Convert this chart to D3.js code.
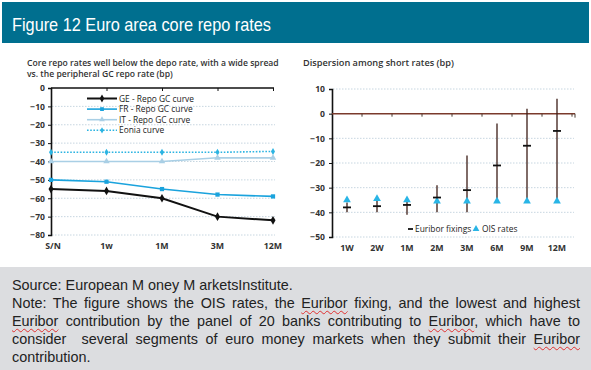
<!DOCTYPE html>
<html>
<head>
<meta charset="utf-8">
<script src="https://cdn.jsdelivr.net/npm/d3@7"></script>
<style>
  body { margin: 0; background: #fff; }
  #wrap { position: relative; width: 591px; height: 370px; overflow: hidden; }
  svg { position: absolute; left: 0; top: 0; }
  .note {
    position: absolute; left: 0; top: 267px; width: 568px; height: 94px;
    background: #dcdde0; padding: 9px 11px 0 12px;
    font-family: "Liberation Sans", Arial, sans-serif; font-size: 14.4px;
    line-height: 18px; color: #222;
  }
  .note div { white-space: nowrap; }
  .note .j { text-align: justify; text-align-last: justify; white-space: normal; }
  .sp { text-decoration: underline wavy #e03030; text-decoration-thickness: 1px; text-underline-offset: 2px; }
</style>
</head>
<body>
<div id="wrap"></div>
<script>
// left panel data (bp)
const tenorsL = ["S/N", "1w", "1M", "3M", "12M"]
const geRepo = [-55, -56, -60, -70, -72]
const frRepo = [-50, -51, -55, -58, -59]
const itRepo = [-40, -40, -40, -38, -38]
const eonia = [-35, -35, -35, -35, -34.5]
const ticksL = [0, -10, -20, -30, -40, -50, -60, -70, -80]

// right panel data (bp)
const tenorsR = ["1W", "2W", "1M", "2M", "3M", "6M", "9M", "12M"]
const euribor = [-38, -37.5, -37, -34, -31, -21, -13, -7]
const ois = [-35, -34.5, -35, -35.5, -35.5, -35.5, -35.5, -35.5]
const highest = [-36, -35, -35.5, -29, -17, -4, 2, 6]
const lowest = [-40, -40, -41, -40, -40, -35, -35, -35]
const ticksR = [10, 0, -10, -20, -30, -40, -50]

const W = 591, H = 370
const wrap = d3.select('#wrap')
const svg = wrap.append('svg').attr('width', W).attr('height', H)

// header band
svg.append('rect').attr('x', 2).attr('y', 2).attr('width', 587).attr('height', 41).attr('fill', '#006f8f')
svg.append('text')
    .attr('x', 12).attr('y', 31)
    .attr('fill', '#fff')
    .attr('textLength', 259).attr('lengthAdjust', 'spacingAndGlyphs')
    .style('font-family', '"Liberation Sans", Arial, sans-serif')
    .style('font-size', '18.5px')
    .text('Figure 12 Euro area core repo rates')

const chartFont = '"Open Sans", "DejaVu Sans", sans-serif'
const gridCol = '#b9cbd8'

// ---------- left panel ----------
const left = svg.append('g')
left.selectAll('.sub').data(['Core repo rates well below the depo rate, with a wide spread',
                             'vs. the peripheral GC repo rate (bp)'])
    .enter().append('text')
    .attr('x', 27).attr('y', (d, i) => 66 + i * 11.3)
    .style('font-family', chartFont).style('font-size', '8.6px').style('font-weight', 600)
    .attr('fill', '#333')
    .text(d => d)

const xL = d3.scalePoint().domain(tenorsL).range([51, 273])
const yL = d3.scaleLinear().domain([-80, 0]).range([235, 88])

// dotted grid
left.selectAll('.grid').data(ticksL.filter(t => t != 0)).enter().append('line')
    .attr('x1', 52).attr('x2', 275)
    .attr('y1', d => yL(d)).attr('y2', d => yL(d))
    .attr('stroke', gridCol).attr('stroke-width', 0.8).attr('stroke-dasharray', '1.5,1.5')

// top axis line at 0
left.append('g')
    .attr('transform', 'translate(0,' + yL(0) + ')')
    .call(d3.axisBottom(xL).tickSize(3).tickFormat(''))
    .call(g => g.select('.domain').attr('stroke', '#111').attr('stroke-width', 1.5).attr('d', 'M51,0H274'))
    .call(g => g.selectAll('.tick line').attr('stroke', '#111'))

// y axis
left.append('g')
    .attr('transform', 'translate(51,0)')
    .call(d3.axisLeft(yL).tickValues(ticksL).tickSize(3).tickPadding(3))
    .call(g => g.select('.domain').attr('stroke', '#111').attr('stroke-width', 1.6))
    .call(g => g.selectAll('.tick line').attr('stroke', '#111'))
    .call(g => g.selectAll('text').style('font-family', chartFont).style('font-size', '8.6px')
        .style('font-weight', 700).attr('fill', '#333'))

// x labels along bottom
left.selectAll('.xl').data(tenorsL).enter().append('text')
    .attr('x', d => xL(d) + (d == 'S/N' ? 2 : 0)).attr('y', 249)
    .attr('text-anchor', 'middle')
    .style('font-family', chartFont).style('font-size', '8.8px').style('font-weight', 700)
    .attr('fill', '#333')
    .text(d => d)

const seriesL = [
    {name: 'GE - Repo GC curve', vals: geRepo, color: '#111', width: 2, dash: null, marker: d3.symbolDiamond, size: 22},
    {name: 'FR - Repo GC curve', vals: frRepo, color: '#1aa3dd', width: 1.6, dash: null, marker: d3.symbolSquare, size: 18},
    {name: 'IT - Repo GC curve', vals: itRepo, color: '#a9cfe5', width: 1.6, dash: null, marker: d3.symbolTriangle, size: 18},
    {name: 'Eonia curve', vals: eonia, color: '#2cb4e2', width: 1.6, dash: '1.6,1.6', marker: d3.symbolDiamond, size: 14},
]

const lineL = d3.line().x((d, i) => xL(tenorsL[i])).y(d => yL(d))
seriesL.slice().reverse().forEach(s => {
    left.append('path').datum(s.vals)
        .attr('fill', 'none').attr('stroke', s.color).attr('stroke-width', s.width)
        .attr('stroke-dasharray', s.dash)
        .attr('d', lineL)
    left.selectAll(null).data(s.vals).enter().append('path')
        .attr('transform', (d, i) => 'translate(' + xL(tenorsL[i]) + ',' + yL(d) + ')')
        .attr('d', d3.symbol().type(s.marker).size(s.size))
        .attr('fill', s.color)
})

// legend
const legL = left.append('g')
seriesL.forEach((s, i) => {
    const y = 98.5 + i * 10.6
    legL.append('line').attr('x1', 87).attr('x2', 117).attr('y1', y).attr('y2', y)
        .attr('stroke', s.color).attr('stroke-width', s.width).attr('stroke-dasharray', s.dash)
    legL.append('path').attr('transform', 'translate(102,' + y + ')')
        .attr('d', d3.symbol().type(s.marker).size(s.size * 0.8)).attr('fill', s.color)
    legL.append('text').attr('x', 119).attr('y', y + 3)
        .style('font-family', chartFont).style('font-size', '8.4px')
        .attr('fill', '#222')
        .text(s.name)
})

// ---------- right panel ----------
const right = svg.append('g')
right.append('text')
    .attr('x', 303).attr('y', 66)
    .style('font-family', chartFont).style('font-size', '9.2px').style('font-weight', 600)
    .attr('fill', '#333')
    .text('Dispersion among short rates (bp)')

const xR = d3.scaleBand().domain(tenorsR).range([332, 572])
const yR = d3.scaleLinear().domain([-50, 10]).range([237, 89])

right.selectAll('.grid').data(ticksR.filter(t => t != 0)).enter().append('line')
    .attr('x1', 333).attr('x2', 574)
    .attr('y1', d => yR(d)).attr('y2', d => yR(d))
    .attr('stroke', gridCol).attr('stroke-width', 0.8).attr('stroke-dasharray', '1.5,1.5')

// y axis
right.append('g')
    .attr('transform', 'translate(332,0)')
    .call(d3.axisLeft(yR).tickValues(ticksR).tickSize(3).tickPadding(4))
    .call(g => g.select('.domain').attr('stroke', '#111').attr('stroke-width', 1.6))
    .call(g => g.selectAll('.tick line').attr('stroke', '#111'))
    .call(g => g.selectAll('text').style('font-family', chartFont).style('font-size', '8.6px')
        .style('font-weight', 700).attr('fill', '#333'))

// zero line with ticks at band edges
const edges = tenorsR.map(t => xR(t) + xR.bandwidth())
right.append('line').attr('x1', 332).attr('x2', 575).attr('y1', yR(0)).attr('y2', yR(0))
    .attr('stroke', '#7a3a2c').attr('stroke-width', 1.5)
right.selectAll('.edge').data(edges).enter().append('line')
    .attr('x1', d => d).attr('x2', d => d)
    .attr('y1', yR(0)).attr('y2', yR(0) + 3)
    .attr('stroke', '#4a3a30').attr('stroke-width', 1)
right.append('line').attr('x1', 575).attr('x2', 575).attr('y1', yR(0)).attr('y2', yR(0) + 4)
    .attr('stroke', '#4a3a30')

// x labels
right.selectAll('.xl').data(tenorsR).enter().append('text')
    .attr('x', d => xR(d) + xR.bandwidth() / 2).attr('y', 251)
    .attr('text-anchor', 'middle')
    .style('font-family', chartFont).style('font-size', '8.8px').style('font-weight', 700)
    .attr('fill', '#333')
    .text(d => d)

const cx = i => xR(tenorsR[i]) + xR.bandwidth() / 2

// high-low range lines
right.selectAll('.rng').data(tenorsR).enter().append('line')
    .attr('x1', (d, i) => cx(i)).attr('x2', (d, i) => cx(i))
    .attr('y1', (d, i) => yR(highest[i])).attr('y2', (d, i) => yR(lowest[i]))
    .attr('stroke', '#3b1d16').attr('stroke-width', 1.3)

// OIS triangles
right.selectAll('.ois').data(ois).enter().append('path')
    .attr('transform', (d, i) => 'translate(' + cx(i) + ',' + yR(d) + ')')
    .attr('d', d3.symbol().type(d3.symbolTriangle).size(26))
    .attr('fill', '#29b5e6')

// Euribor fixings dashes
right.selectAll('.eur').data(euribor).enter().append('line')
    .attr('x1', (d, i) => cx(i) - 4).attr('x2', (d, i) => cx(i) + 4)
    .attr('y1', d => yR(d)).attr('y2', d => yR(d))
    .attr('stroke', '#111').attr('stroke-width', 1.8)

// legend
const legR = right.append('g')
legR.append('line').attr('x1', 408).attr('x2', 413).attr('y1', 229).attr('y2', 229)
    .attr('stroke', '#111').attr('stroke-width', 1.8)
legR.append('text').attr('x', 415).attr('y', 232)
    .style('font-family', chartFont).style('font-size', '8.4px').attr('fill', '#222')
    .text('Euribor fixings')
legR.append('path').attr('transform', 'translate(476,229)')
    .attr('d', d3.symbol().type(d3.symbolTriangle).size(20)).attr('fill', '#29b5e6')
legR.append('text').attr('x', 482).attr('y', 232)
    .style('font-family', chartFont).style('font-size', '8.4px').attr('fill', '#222')
    .text('OIS rates')

// ---------- footer note ----------
const noteLines = [
    {cls: '', html: 'Source: European M oney M arketsInstitute.'},
    {cls: 'j', html: 'Note: The figure shows the OIS rates, the <span class="sp">Euribor</span> fixing, and the lowest and highest'},
    {cls: 'j', html: '<span class="sp">Euribor</span> contribution by the panel of 20 banks contributing to <span class="sp">Euribor</span>, which have to'},
    {cls: 'j', html: 'consider &nbsp;several segments of euro money markets when they submit their <span class="sp">Euribor</span>'},
    {cls: '', html: 'contribution.'},
]
wrap.append('div').attr('class', 'note')
    .selectAll('div').data(noteLines).enter().append('div')
    .attr('class', d => d.cls)
    .html(d => d.html)
</script>
</body>
</html>
